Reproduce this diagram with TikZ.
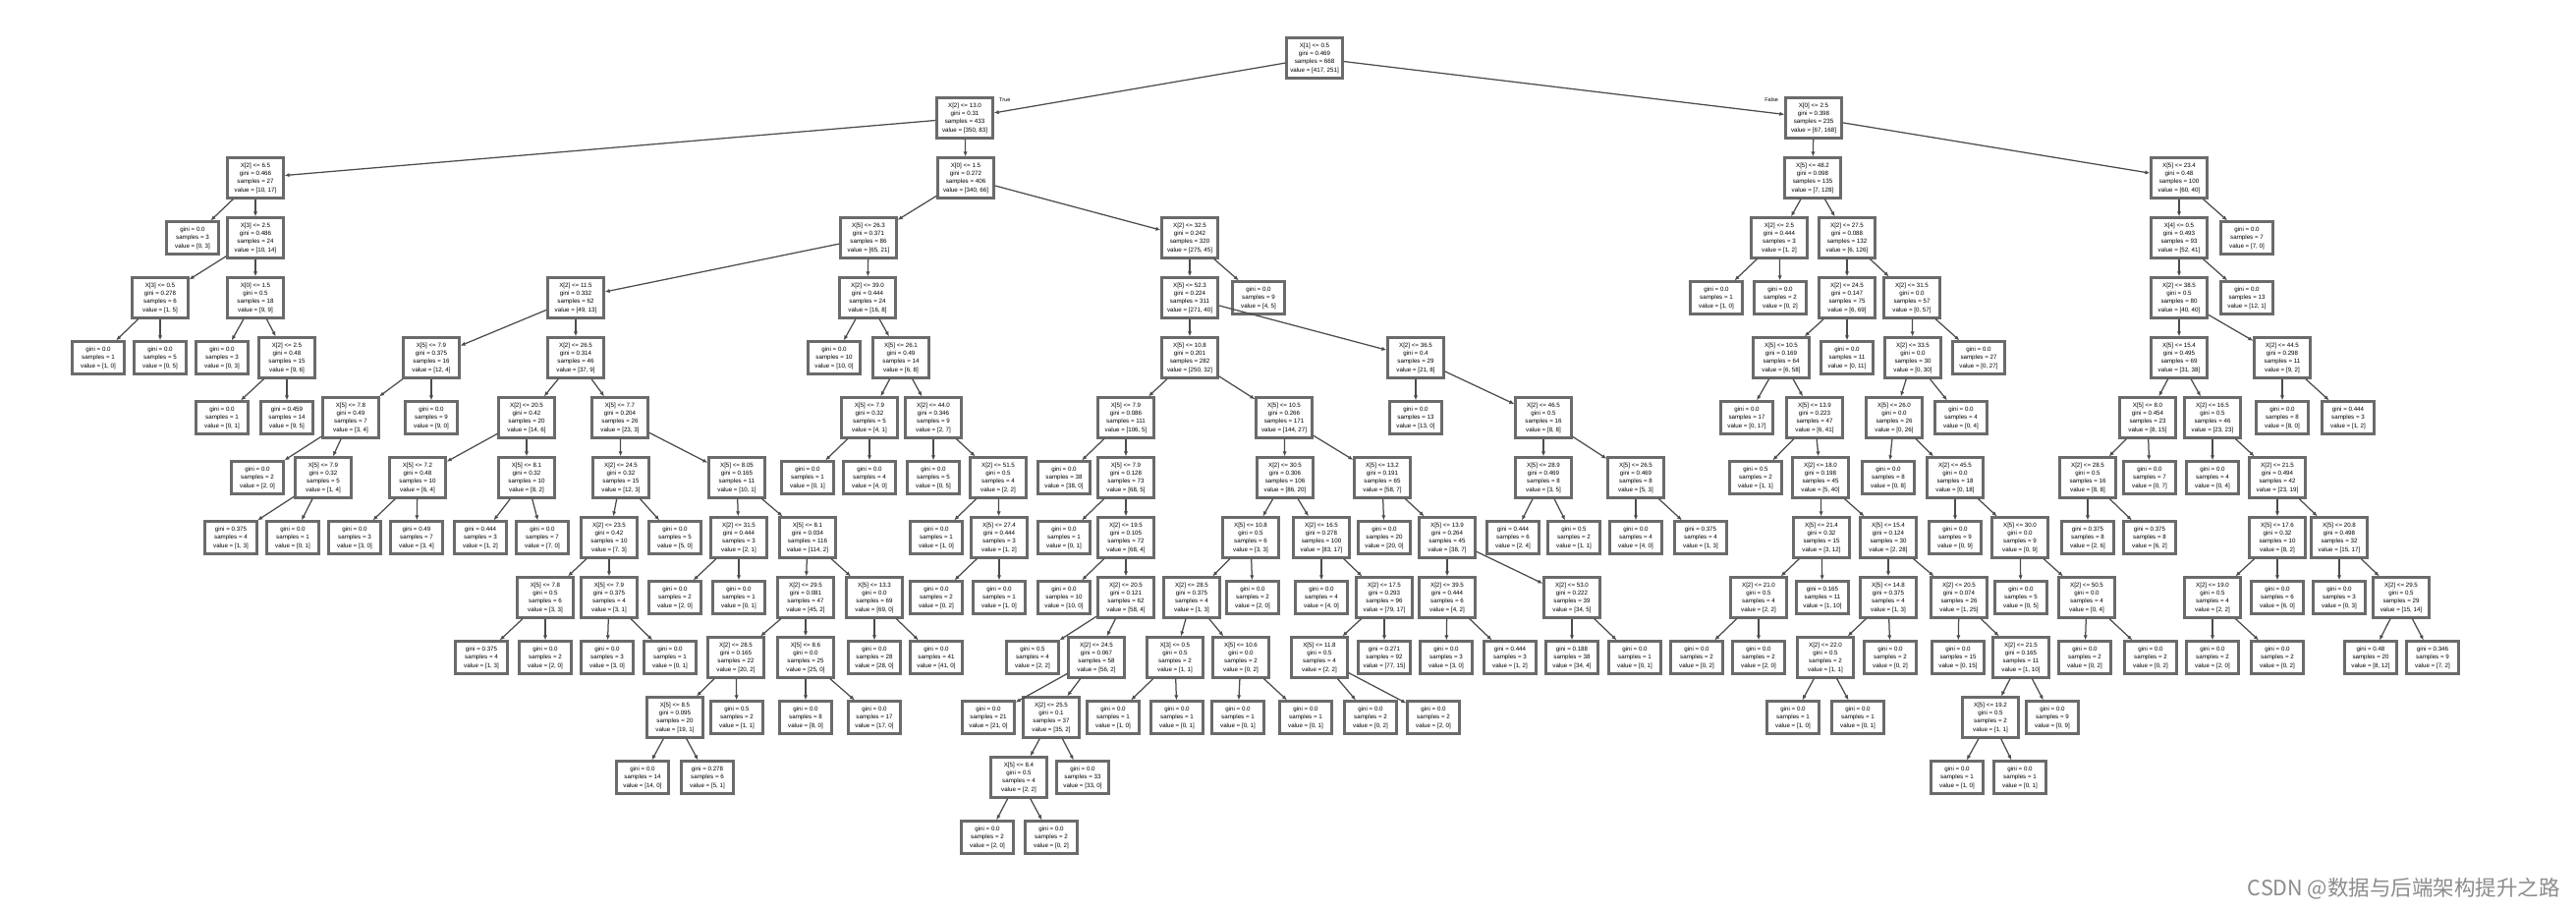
\documentclass[tikz,border=0pt]{standalone}
\usepackage{fontspec}
\setmainfont{Liberation Sans}
\newfontfamily\cjk{Noto Sans CJK SC}
\usetikzlibrary{arrows.meta}
\tikzset{
  box/.style={draw=black!58, line width=2.2pt, fill=white, align=center, inner sep=1pt, font=\fontsize{6.2}{8.4}\selectfont},
  inb/.style={box, minimum width=57pt, minimum height=41pt},
  lfb/.style={box, minimum width=53pt, minimum height=33pt},
  ed/.style={draw=black!70, line width=1.25pt, -{Latex[length=5pt,width=4.2pt]}},
  elab/.style={font=\fontsize{5.5}{6}\selectfont, inner sep=0pt},
  wm/.style={font=\cjk\fontsize{21.5}{22}\selectfont, text=black!45, inner sep=0pt}
}
\newcommand{\IN}[8]{\node[inb] (#1) at (#2,{-59-61*#3}) {X[#4] <= #5\\gini = #6\\samples = #7\\value = [#8]};}
\newcommand{\LF}[6]{\node[lfb] (#1) at (#2,{-59-61*#3}) {gini = #4\\samples = #5\\value = [#6]};}
\begin{document}
\begin{tikzpicture}[x=1pt,y=1pt]
\useasboundingbox (0,0) rectangle (2622,-928);
% root and first level
\IN{r}{1338}{0}{1}{0.5}{0.469}{668}{417, 251}
\IN{L}{982}{1}{2}{13.0}{0.31}{433}{350, 83}
\IN{R}{1846}{1}{0}{2.5}{0.398}{235}{67, 168}
\node[elab, anchor=south west] (lt) at (1017,-104) {True};
\node[elab, anchor=south east] (lf) at (1810,-104) {False};
% subtree a
\IN{a}{260}{2}{2}{6.5}{0.466}{27}{10, 17}
\LF{a1}{196}{3}{0.0}{3}{0, 3}
\IN{a2}{260}{3}{3}{2.5}{0.486}{24}{10, 14}
\IN{a3}{163}{4}{3}{0.5}{0.278}{6}{1, 5}
\IN{a4}{260}{4}{0}{1.5}{0.5}{18}{9, 9}
\LF{a31}{100}{5}{0.0}{1}{1, 0}
\LF{a32}{163}{5}{0.0}{5}{0, 5}
\LF{a41}{226}{5}{0.0}{3}{0, 3}
\IN{a5}{292}{5}{2}{2.5}{0.48}{15}{9, 6}
\LF{a51}{226}{6}{0.0}{1}{0, 1}
\LF{a52}{292}{6}{0.459}{14}{9, 5}
% subtree b
\IN{b}{983}{2}{0}{1.5}{0.272}{406}{340, 66}
\IN{c}{884}{3}{5}{26.3}{0.371}{86}{65, 21}
\IN{dd}{1211}{3}{2}{32.5}{0.242}{320}{275, 45}
\IN{e}{586}{4}{2}{11.5}{0.332}{62}{49, 13}
\IN{f}{883}{4}{2}{39.0}{0.444}{24}{16, 8}
\IN{ea}{439}{5}{5}{7.9}{0.375}{16}{12, 4}
\IN{eb}{586}{5}{2}{26.5}{0.314}{46}{37, 9}
\IN{eaa}{357}{6}{5}{7.8}{0.49}{7}{3, 4}
\LF{eab}{439}{6}{0.0}{9}{9, 0}
\LF{eaaa}{262}{7}{0.0}{2}{2, 0}
\IN{eaab}{329}{7}{5}{7.9}{0.32}{5}{1, 4}
\LF{eaaba}{235}{8}{0.375}{4}{1, 3}
\LF{eaabb}{298}{8}{0.0}{1}{0, 1}
\IN{eba}{536}{6}{2}{20.5}{0.42}{20}{14, 6}
\IN{ebb}{631}{6}{5}{7.7}{0.204}{26}{23, 3}
\IN{ebaa}{425}{7}{5}{7.2}{0.48}{10}{6, 4}
\IN{ebab}{536}{7}{5}{8.1}{0.32}{10}{8, 2}
\LF{ebaaa}{361}{8}{0.0}{3}{3, 0}
\LF{ebaab}{424}{8}{0.49}{7}{3, 4}
\LF{ebaba}{489}{8}{0.444}{3}{1, 2}
\LF{ebabb}{552}{8}{0.0}{7}{7, 0}
\IN{ebba}{632}{7}{2}{24.5}{0.32}{15}{12, 3}
\IN{ebbb}{750}{7}{5}{8.05}{0.165}{11}{10, 1}
\IN{ga}{620}{8}{2}{23.5}{0.42}{10}{7, 3}
\LF{gb}{687}{8}{0.0}{5}{5, 0}
\IN{gaa}{555}{9}{5}{7.8}{0.5}{6}{3, 3}
\IN{gab}{620}{9}{5}{7.9}{0.375}{4}{3, 1}
\LF{gaaa}{490}{10}{0.375}{4}{1, 3}
\LF{gaab}{555}{10}{0.0}{2}{2, 0}
\LF{gaba}{618}{10}{0.0}{3}{3, 0}
\LF{gabb}{682}{10}{0.0}{1}{0, 1}
\IN{ha}{752}{8}{2}{31.5}{0.444}{3}{2, 1}
\IN{hb}{822}{8}{5}{8.1}{0.034}{116}{114, 2}
\LF{haa}{687}{9}{0.0}{2}{2, 0}
\LF{hab}{752}{9}{0.0}{1}{0, 1}
\IN{hba}{820}{9}{2}{29.5}{0.081}{47}{45, 2}
\IN{hbb}{890}{9}{5}{13.3}{0.0}{69}{69, 0}
\IN{hbaa}{749}{10}{2}{28.5}{0.165}{22}{20, 2}
\IN{hbab}{820}{10}{5}{8.6}{0.0}{25}{25, 0}
\IN{hbaaa}{687}{11}{5}{8.5}{0.095}{20}{19, 1}
\LF{hbaab}{750}{11}{0.5}{2}{1, 1}
\LF{hbaaaa}{654}{12}{0.0}{14}{14, 0}
\LF{hbaaab}{720}{12}{0.278}{6}{5, 1}
\LF{hbaba}{820}{11}{0.0}{8}{8, 0}
\LF{hbabb}{890}{11}{0.0}{17}{17, 0}
\LF{hbba}{890}{10}{0.0}{28}{28, 0}
\LF{hbbb}{953}{10}{0.0}{41}{41, 0}
\LF{fa}{849}{5}{0.0}{10}{10, 0}
\IN{fb}{917}{5}{5}{26.1}{0.49}{14}{6, 8}
\IN{fba}{885}{6}{5}{7.9}{0.32}{5}{4, 1}
\IN{fbb}{950}{6}{2}{44.0}{0.346}{9}{2, 7}
\LF{fbaa}{822}{7}{0.0}{1}{0, 1}
\LF{fbab}{885}{7}{0.0}{4}{4, 0}
\LF{fbba}{950}{7}{0.0}{5}{0, 5}
\IN{fbbb}{1016}{7}{2}{51.5}{0.5}{4}{2, 2}
\LF{fbbba}{953}{8}{0.0}{1}{1, 0}
\IN{fbbbb}{1017}{8}{5}{27.4}{0.444}{3}{1, 2}
\LF{fbbbba}{953}{9}{0.0}{2}{0, 2}
\LF{fbbbbb}{1017}{9}{0.0}{1}{1, 0}
% subtree dd
\IN{k}{1211}{4}{5}{52.3}{0.224}{311}{271, 40}
\LF{kl}{1281}{4}{0.0}{9}{4, 5}
\IN{ka}{1211}{5}{5}{10.8}{0.201}{282}{250, 32}
\IN{kb}{1441}{5}{2}{36.5}{0.4}{29}{21, 8}
\IN{m}{1146}{6}{5}{7.9}{0.086}{111}{106, 5}
\IN{n}{1307}{6}{5}{10.5}{0.266}{171}{144, 27}
\LF{ma}{1083}{7}{0.0}{38}{38, 0}
\IN{mb}{1146}{7}{5}{7.9}{0.128}{73}{68, 5}
\LF{mba}{1083}{8}{0.0}{1}{0, 1}
\IN{mbb}{1146}{8}{2}{19.5}{0.105}{72}{68, 4}
\LF{mbba}{1083}{9}{0.0}{10}{10, 0}
\IN{mbbb}{1146}{9}{2}{20.5}{0.121}{62}{58, 4}
\LF{mc1}{1051}{10}{0.5}{4}{2, 2}
\IN{mc}{1116}{10}{2}{24.5}{0.067}{58}{56, 2}
\LF{md1}{1006}{11}{0.0}{21}{21, 0}
\IN{md}{1070}{11}{2}{25.5}{0.1}{37}{35, 2}
\IN{me}{1037}{12}{5}{8.4}{0.5}{4}{2, 2}
\LF{me1}{1102}{12}{0.0}{33}{33, 0}
\LF{mea}{1005}{13}{0.0}{2}{2, 0}
\LF{meb}{1070}{13}{0.0}{2}{0, 2}
\IN{na}{1308}{7}{2}{30.5}{0.306}{106}{86, 20}
\IN{nb}{1407}{7}{5}{13.2}{0.191}{65}{58, 7}
\IN{p}{1273}{8}{5}{10.8}{0.5}{6}{3, 3}
\IN{q}{1345}{8}{2}{16.5}{0.278}{100}{83, 17}
\IN{pa}{1213}{9}{2}{28.5}{0.375}{4}{1, 3}
\LF{pb}{1275}{9}{0.0}{2}{2, 0}
\IN{paa}{1196}{10}{3}{0.5}{0.5}{2}{1, 1}
\IN{pab}{1263}{10}{5}{10.6}{0.0}{2}{0, 2}
\LF{paaa}{1133}{11}{0.0}{1}{1, 0}
\LF{paab}{1198}{11}{0.0}{1}{0, 1}
\LF{paba}{1260}{11}{0.0}{1}{0, 1}
\LF{pabb}{1329}{11}{0.0}{1}{0, 1}
\LF{qa}{1345}{9}{0.0}{4}{4, 0}
\IN{qb}{1409}{9}{2}{17.5}{0.293}{96}{79, 17}
\IN{qba}{1343}{10}{5}{11.8}{0.5}{4}{2, 2}
\LF{qbb}{1409}{10}{0.271}{92}{77, 15}
\LF{qbaa}{1395}{11}{0.0}{2}{0, 2}
\LF{qbab}{1459}{11}{0.0}{2}{2, 0}
\LF{nba}{1409}{8}{0.0}{20}{20, 0}
\IN{s}{1473}{8}{5}{13.9}{0.264}{45}{38, 7}
\IN{sa}{1473}{9}{2}{39.5}{0.444}{6}{4, 2}
\IN{sb}{1600}{9}{2}{53.0}{0.222}{39}{34, 5}
\LF{saa}{1472}{10}{0.0}{3}{3, 0}
\LF{sab}{1537}{10}{0.444}{3}{1, 2}
\LF{sba}{1600}{10}{0.188}{38}{34, 4}
\LF{sbb}{1664}{10}{0.0}{1}{0, 1}
\LF{kba}{1441}{6}{0.0}{13}{13, 0}
\IN{t}{1571}{6}{2}{46.5}{0.5}{16}{8, 8}
\IN{ta}{1571}{7}{5}{28.9}{0.469}{8}{3, 5}
\IN{tb}{1665}{7}{5}{26.5}{0.469}{8}{5, 3}
\LF{taa}{1540}{8}{0.444}{6}{2, 4}
\LF{tab}{1602}{8}{0.5}{2}{1, 1}
\LF{tba}{1665}{8}{0.0}{4}{4, 0}
\LF{tbb}{1731}{8}{0.375}{4}{1, 3}
% right subtree
\IN{Ra}{1845}{2}{5}{48.2}{0.098}{135}{7, 128}
\IN{Rb}{2218}{2}{5}{23.4}{0.48}{100}{60, 40}
\IN{u}{1811}{3}{2}{2.5}{0.444}{3}{1, 2}
\IN{v}{1880}{3}{2}{27.5}{0.088}{132}{6, 126}
\LF{ua}{1747}{4}{0.0}{1}{1, 0}
\LF{ub}{1812}{4}{0.0}{2}{0, 2}
\IN{va}{1880}{4}{2}{24.5}{0.147}{75}{6, 69}
\IN{vb}{1946}{4}{2}{31.5}{0.0}{57}{0, 57}
\IN{w}{1813}{5}{5}{10.5}{0.169}{64}{6, 58}
\LF{vab}{1880}{5}{0.0}{11}{0, 11}
\LF{wa}{1778}{6}{0.0}{17}{0, 17}
\IN{wb}{1847}{6}{5}{13.9}{0.223}{47}{6, 41}
\LF{wba}{1787}{7}{0.5}{2}{1, 1}
\IN{wbb}{1853}{7}{2}{18.0}{0.198}{45}{5, 40}
\IN{wc}{1854}{8}{5}{21.4}{0.32}{15}{3, 12}
\IN{wd}{1922}{8}{5}{15.4}{0.124}{30}{2, 28}
\IN{wca}{1790}{9}{2}{21.0}{0.5}{4}{2, 2}
\LF{wcb}{1855}{9}{0.165}{11}{1, 10}
\LF{wcaa}{1727}{10}{0.0}{2}{0, 2}
\LF{wcab}{1790}{10}{0.0}{2}{2, 0}
\IN{wda}{1922}{9}{5}{14.8}{0.375}{4}{1, 3}
\IN{wdb}{1994}{9}{2}{20.5}{0.074}{26}{1, 25}
\IN{wdaa}{1858}{10}{2}{22.0}{0.5}{2}{1, 1}
\LF{wdab}{1924}{10}{0.0}{2}{0, 2}
\LF{wdaaa}{1825}{11}{0.0}{1}{1, 0}
\LF{wdaab}{1891}{11}{0.0}{1}{0, 1}
\LF{wdba}{1993}{10}{0.0}{15}{0, 15}
\IN{wdbb}{2057}{10}{2}{21.5}{0.165}{11}{1, 10}
\IN{wdbba}{2026}{11}{5}{19.2}{0.5}{2}{1, 1}
\LF{wdbbb}{2089}{11}{0.0}{9}{0, 9}
\LF{wdbbaa}{1992}{12}{0.0}{1}{1, 0}
\LF{wdbbab}{2056}{12}{0.0}{1}{0, 1}
\IN{vba}{1947}{5}{2}{33.5}{0.0}{30}{0, 30}
\LF{vbb}{2014}{5}{0.0}{27}{0, 27}
\IN{vbaa}{1928}{6}{5}{26.0}{0.0}{26}{0, 26}
\LF{vbab}{1996}{6}{0.0}{4}{0, 4}
\LF{vbaaa}{1922}{7}{0.0}{8}{0, 8}
\IN{x1}{1990}{7}{2}{45.5}{0.0}{18}{0, 18}
\LF{x1a}{1990}{8}{0.0}{9}{0, 9}
\IN{x2}{2056}{8}{5}{30.0}{0.0}{9}{0, 9}
\LF{x2a}{2057}{9}{0.0}{5}{0, 5}
\IN{x3}{2124}{9}{2}{50.5}{0.0}{4}{0, 4}
\LF{x3a}{2122}{10}{0.0}{2}{0, 2}
\LF{x3b}{2189}{10}{0.0}{2}{0, 2}
\IN{y1}{2218}{3}{4}{0.5}{0.493}{93}{52, 41}
\LF{y1l}{2287}{3}{0.0}{7}{7, 0}
\IN{y2}{2218}{4}{2}{38.5}{0.5}{80}{40, 40}
\LF{y2l}{2287}{4}{0.0}{13}{12, 1}
\IN{y3}{2218}{5}{5}{15.4}{0.495}{69}{31, 38}
\IN{z}{2323}{5}{2}{44.5}{0.298}{11}{9, 2}
\IN{y31}{2186}{6}{5}{8.0}{0.454}{23}{8, 15}
\IN{y32}{2252}{6}{2}{16.5}{0.5}{46}{23, 23}
\LF{za}{2323}{6}{0.0}{8}{8, 0}
\LF{zb}{2390}{6}{0.444}{3}{1, 2}
\IN{y311}{2125}{7}{2}{28.5}{0.5}{16}{8, 8}
\LF{y312}{2188}{7}{0.0}{7}{0, 7}
\LF{y311a}{2125}{8}{0.375}{8}{2, 6}
\LF{y311b}{2188}{8}{0.375}{8}{6, 2}
\LF{y321}{2252}{7}{0.0}{4}{0, 4}
\IN{y322}{2318}{7}{2}{21.5}{0.494}{42}{23, 19}
\IN{y3221}{2318}{8}{5}{17.6}{0.32}{10}{8, 2}
\IN{y3222}{2381}{8}{5}{20.8}{0.498}{32}{15, 17}
\IN{y32211}{2252}{9}{2}{19.0}{0.5}{4}{2, 2}
\LF{y3221b}{2318}{9}{0.0}{6}{6, 0}
\LF{y32211a}{2252}{10}{0.0}{2}{2, 0}
\LF{y32211b}{2318}{10}{0.0}{2}{0, 2}
\LF{y3222a}{2381}{9}{0.0}{3}{0, 3}
\IN{y32222}{2444}{9}{2}{29.5}{0.5}{29}{15, 14}
\LF{y32222a}{2413}{10}{0.48}{20}{8, 12}
\LF{y32222b}{2476}{10}{0.346}{9}{7, 2}
% connectors
\foreach \p/\c in {r/L, r/R, L/a, L/b,
 a/a1, a/a2, a2/a3, a2/a4, a3/a31, a3/a32, a4/a41, a4/a5, a5/a51, a5/a52,
 b/c, b/dd, c/e, c/f,
 e/ea, e/eb, ea/eaa, ea/eab, eaa/eaaa, eaa/eaab, eaab/eaaba, eaab/eaabb,
 eb/eba, eb/ebb, eba/ebaa, eba/ebab, ebaa/ebaaa, ebaa/ebaab, ebab/ebaba, ebab/ebabb,
 ebb/ebba, ebb/ebbb, ebba/ga, ebba/gb, ga/gaa, ga/gab, gaa/gaaa, gaa/gaab, gab/gaba, gab/gabb,
 ebbb/ha, ebbb/hb, ha/haa, ha/hab, hb/hba, hb/hbb, hba/hbaa, hba/hbab, hbaa/hbaaa, hbaa/hbaab,
 hbaaa/hbaaaa, hbaaa/hbaaab, hbab/hbaba, hbab/hbabb, hbb/hbba, hbb/hbbb,
 f/fa, f/fb, fb/fba, fb/fbb, fba/fbaa, fba/fbab, fbb/fbba, fbb/fbbb, fbbb/fbbba, fbbb/fbbbb,
 fbbbb/fbbbba, fbbbb/fbbbbb,
 dd/k, dd/kl, k/ka, k/kb, ka/m, ka/n, m/ma, m/mb, mb/mba, mb/mbb, mbb/mbba, mbb/mbbb,
 mbbb/mc1, mbbb/mc, mc/md1, mc/md, md/me, md/me1, me/mea, me/meb,
 n/na, n/nb, na/p, na/q, p/pa, p/pb, pa/paa, pa/pab, paa/paaa, paa/paab, pab/paba, pab/pabb,
 q/qa, q/qb, qb/qba, qb/qbb, qba/qbaa, qba/qbab, nb/nba, nb/s, s/sa, s/sb, sa/saa, sa/sab,
 sb/sba, sb/sbb, kb/kba, kb/t, t/ta, t/tb, ta/taa, ta/tab, tb/tba, tb/tbb,
 R/Ra, R/Rb, Ra/u, Ra/v, u/ua, u/ub, v/va, v/vb, va/w, va/vab, w/wa, w/wb, wb/wba, wb/wbb,
 wbb/wc, wbb/wd, wc/wca, wc/wcb, wca/wcaa, wca/wcab, wd/wda, wd/wdb, wda/wdaa, wda/wdab,
 wdaa/wdaaa, wdaa/wdaab, wdb/wdba, wdb/wdbb, wdbb/wdbba, wdbb/wdbbb, wdbba/wdbbaa, wdbba/wdbbab,
 vb/vba, vb/vbb, vba/vbaa, vba/vbab, vbaa/vbaaa, vbaa/x1, x1/x1a, x1/x2, x2/x2a, x2/x3,
 x3/x3a, x3/x3b,
 Rb/y1, Rb/y1l, y1/y2, y1/y2l, y2/y3, y2/z, y3/y31, y3/y32, z/za, z/zb, y31/y311, y31/y312,
 y311/y311a, y311/y311b, y32/y321, y32/y322, y322/y3221, y322/y3222, y3221/y32211,
 y3221/y3221b, y32211/y32211a, y32211/y32211b, y3222/y3222a, y3222/y32222,
 y32222/y32222a, y32222/y32222b}
 \draw[ed] (\p) -- (\c);
% watermark
\node[wm, anchor=east] (wmk) at (2606,-904) {CSDN @数据与后端架构提升之路};
\end{tikzpicture}
\end{document}
